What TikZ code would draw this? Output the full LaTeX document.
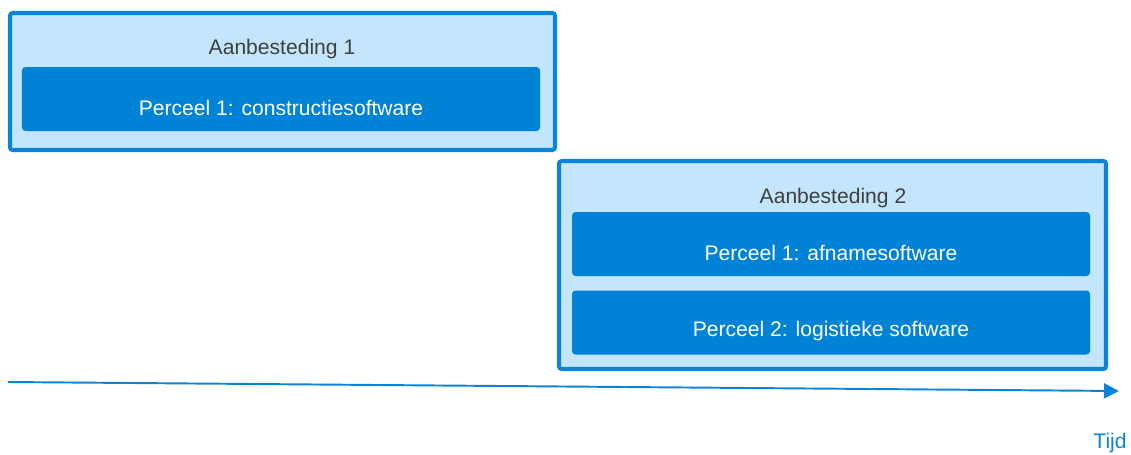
\documentclass[tikz,border=0pt]{standalone}
\usepackage{fontspec}
\setmainfont{Liberation Sans}
\usetikzlibrary{arrows.meta}
\definecolor{rand}{HTML}{0A84D8}
\definecolor{licht}{HTML}{C4E6FC}
\definecolor{perceelblauw}{HTML}{0082D6}
\definecolor{titelgrijs}{HTML}{404040}
\tikzset{
  aanbesteding/.style={draw=rand, fill=licht, line width=2.3pt, rounded corners=1.5pt, inner sep=0pt},
  perceel/.style={fill=perceelblauw, rounded corners=2pt, minimum width=10.36cm, minimum height=1.28cm, inner sep=0pt},
  perceeltekst/.style={text=white, font=\fontsize{12}{14}\selectfont},
  titel/.style={text=titelgrijs, font=\fontsize{12}{14}\selectfont},
}

\begin{document}
\begin{tikzpicture}[>=Stealth]
        \useasboundingbox (0,0) rectangle (22.62,-9.08);
        \node[aanbesteding, minimum width=10.9cm, minimum height=2.74cm] (A1) at (5.65,-1.63) {};
        \node[aanbesteding, minimum width=10.94cm, minimum height=4.16cm] (A2) at (16.65,-5.3) {};
        \node[titel] (T1) at (5.64,-0.98) {Aanbesteding 1};
        \node[titel] (T2) at (16.66,-3.96) {Aanbesteding 2};
        \node[perceel, label={[perceeltekst, yshift=-0.18cm]center:Perceel 1: constructiesoftware}] (P11) at (5.62,-1.98) {};
        \node[perceel, label={[perceeltekst, yshift=-0.18cm]center:Perceel 1: afnamesoftware}] (P21) at (16.62,-4.88) {};
        \node[perceel, label={[perceeltekst, yshift=-0.18cm]center:Perceel 2: logistieke software}] (P22) at (16.62,-6.45) {};
        \coordinate (begin) at (0.16,-7.64);
        \coordinate (eind) at (22.38,-7.82);
        \draw[-{Triangle[length=0.3cm, width=0.3cm]}, rand, line width=1.1pt] (begin) -- (eind);
        \node[text=rand, font=\fontsize{12}{14}\selectfont] (tijd) at (22.2,-8.86) {Tijd};
    \end{tikzpicture}
\end{document}
